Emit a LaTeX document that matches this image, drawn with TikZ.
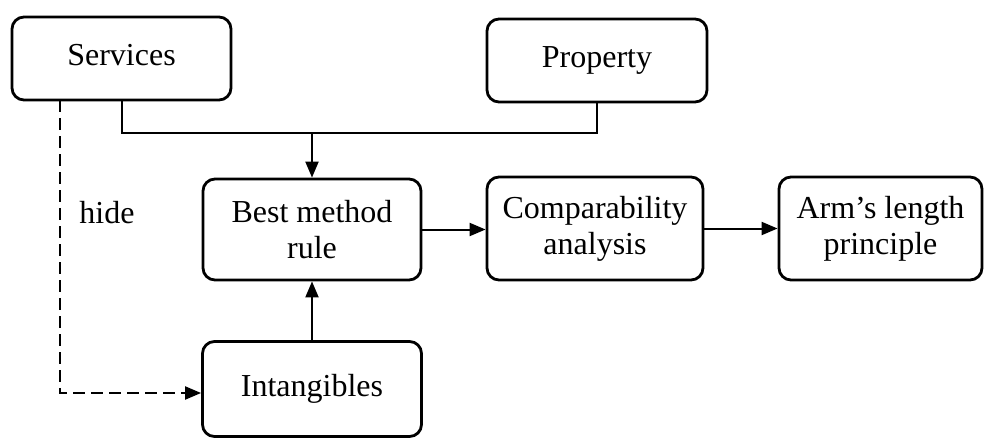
\documentclass[tikz,border=0pt]{standalone}
\usepackage{fontspec}
\setmainfont{Liberation Serif}
\usetikzlibrary{arrows.meta,positioning}
\begin{document}
\begin{tikzpicture}[x=1pt,y=-1pt,
  box/.style={draw, line width=2.8pt, rounded corners=12pt, align=center,
    font=\fontsize{32}{36}\selectfont, inner sep=0pt},
  conn/.style={line width=2pt, -{Triangle[length=16pt,width=13pt]}},
  plain/.style={line width=2pt},
  dashconn/.style={line width=2pt, dash pattern=on 12pt off 6pt, -{Triangle[length=16pt,width=13pt]}},
  lbl/.style={font=\fontsize{32}{36}\selectfont, inner sep=0pt}]
\useasboundingbox (0,0) rectangle (991,439);
\node[box, minimum width=219pt, minimum height=83pt] (svc) at (121.5,58.5) {Services\vphantom{g}};
\node[box, minimum width=220pt, minimum height=83pt] (prop) at (597,60.5) {Property};
\node[box, minimum width=218pt, minimum height=101pt] (best) at (312,229.5) {Best method\\rule};
\node[box, minimum width=216pt, minimum height=103pt] (comp) at (595,228.5) {Comparability\\analysis};
\node[box, minimum width=203pt, minimum height=103pt] (arm) at (880.5,228.5) {Arm’s length\\principle};
\node[box, minimum width=219pt, minimum height=95pt] (int) at (312,389) {Intangibles};
\node[lbl] (hide) at (107,213) {hide};
\coordinate (jn) at (312,133);
\coordinate (dl) at (60,100);
\coordinate (dc) at (60,393);
\draw[plain] (svc.south) -- (svc.south |- jn) -| (prop.south);
\draw[conn] (jn) -- (best.north);
\draw[conn] (int.north) -- (best.south);
\draw[conn] (best.east) -- (best.east -| comp.west);
\draw[conn] (comp.east) -- (comp.east -| arm.west);
\draw[dashconn] (dl) -- (dc) -- (dc -| int.west);
\end{tikzpicture}
\end{document}
